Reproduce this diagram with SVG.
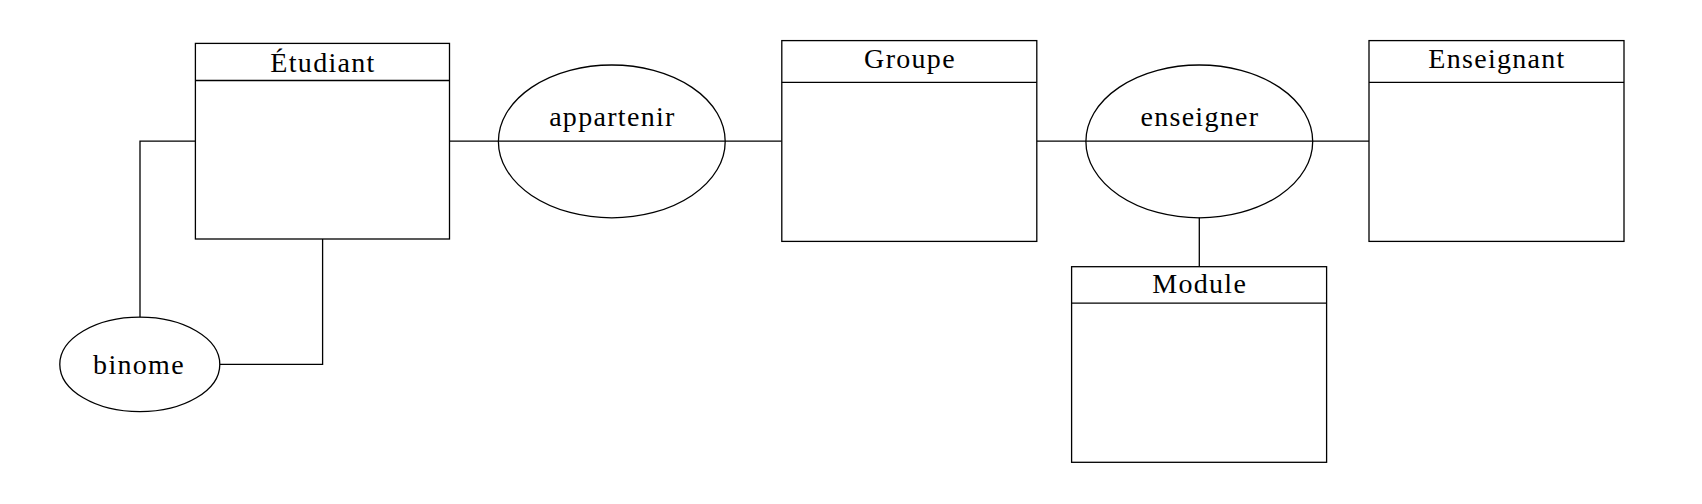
<svg xmlns="http://www.w3.org/2000/svg" width="1702" height="504" viewBox="0 0 1702 504">
<style>
  .box { fill: #fff; stroke: #000; stroke-width: 1.3; }
  .sep { stroke: #000; stroke-width: 1.3; }
  .ell { fill: none; stroke: #000; stroke-width: 1.3; }
  .conn { fill: none; stroke: #000; stroke-width: 1.3; }
  .lbl { font-family: "Liberation Serif", "Times New Roman", serif; font-size: 28px; letter-spacing: 1.3px; fill: #000; text-anchor: middle; }
</style>
<rect width="1702" height="504" fill="#fff"/>
<g id="connectors">
  <path class="conn" d="M449.5 141.2 H781.8"/>
  <path class="conn" d="M1036.8 141.2 H1369"/>
  <path class="conn" d="M1199.3 217.6 V266.7"/>
  <path class="conn" d="M195.4 141.2 H140 V317.2"/>
  <path class="conn" d="M322.6 239 V364.4 H219.8"/>
</g>
<g id="etudiant">
  <rect class="box" x="195.4" y="43.4" width="254.1" height="195.6"/>
  <line class="sep" x1="195.4" y1="80.5" x2="449.5" y2="80.5"/>
  <text class="lbl" x="323" y="71.5">Étudiant</text>
</g>
<g id="groupe">
  <rect class="box" x="781.8" y="40.6" width="255" height="200.8"/>
  <line class="sep" x1="781.8" y1="82.4" x2="1036.8" y2="82.4"/>
  <text class="lbl" x="910" y="67.8">Groupe</text>
</g>
<g id="enseignant">
  <rect class="box" x="1369" y="40.6" width="255" height="200.8"/>
  <line class="sep" x1="1369" y1="82.4" x2="1624" y2="82.4"/>
  <text class="lbl" x="1497" y="67.8">Enseignant</text>
</g>
<g id="module">
  <rect class="box" x="1071.6" y="266.7" width="255" height="195.6"/>
  <line class="sep" x1="1071.6" y1="303.2" x2="1326.6" y2="303.2"/>
  <text class="lbl" x="1199.7" y="292.8">Module</text>
</g>
<g id="appartenir">
  <ellipse class="ell" cx="611.8" cy="141.4" rx="113.4" ry="76.4"/>
  <text class="lbl" x="612.4" y="126">appartenir</text>
</g>
<g id="enseigner">
  <ellipse class="ell" cx="1199.3" cy="141.4" rx="113.4" ry="76.4"/>
  <text class="lbl" x="1199.9" y="126">enseigner</text>
</g>
<g id="binome">
  <ellipse class="ell" cx="139.8" cy="364.4" rx="80" ry="47.2"/>
  <text class="lbl" x="139" y="373.5">binome</text>
</g>
</svg>
